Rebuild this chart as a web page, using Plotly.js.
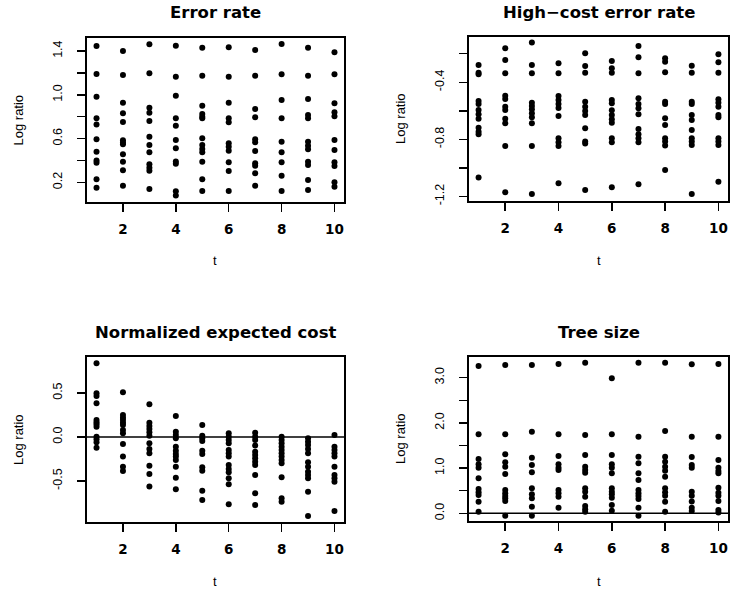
<!DOCTYPE html>
<html><head><meta charset="utf-8">
<script src="https://cdn.plot.ly/plotly-3.0.1.min.js"></script>
<style>html,body{margin:0;padding:0;background:#fff}#chart{width:731px;height:594px}</style>
</head><body><div id="chart"></div>
<script>
// t values (x axis)
const tValues = [1, 2, 3, 4, 5, 6, 7, 8, 9, 10];

// Panel titles
const panelTitles = ["Error rate", "High\u2212cost error rate", "Normalized expected cost", "Tree size"];

// Log ratio values, one list per t
const errorRate = [
  [1.446, 1.19, 0.983, 0.785, 0.73, 0.594, 0.48, 0.40, 0.38, 0.228, 0.152],
  [1.40, 1.18, 0.928, 0.831, 0.752, 0.585, 0.565, 0.548, 0.457, 0.389, 0.31, 0.17],
  [1.461, 1.196, 0.882, 0.836, 0.761, 0.617, 0.541, 0.475, 0.365, 0.334, 0.307, 0.14],
  [1.449, 1.165, 0.992, 0.785, 0.718, 0.587, 0.511, 0.39, 0.37, 0.12, 0.08],
  [1.43, 1.174, 0.90, 0.825, 0.80, 0.785, 0.603, 0.541, 0.505, 0.475, 0.389, 0.228, 0.121],
  [1.434, 1.165, 0.928, 0.785, 0.749, 0.557, 0.526, 0.49, 0.383, 0.304, 0.121],
  [1.409, 1.174, 0.87, 0.795, 0.594, 0.566, 0.487, 0.374, 0.353, 0.283, 0.17],
  [1.464, 1.187, 0.952, 0.785, 0.572, 0.475, 0.383, 0.261, 0.121],
  [1.43, 1.174, 0.962, 0.816, 0.785, 0.572, 0.535, 0.502, 0.389, 0.359, 0.222, 0.13],
  [1.388, 1.187, 0.922, 0.84, 0.804, 0.587, 0.496, 0.383, 0.35, 0.201, 0.161]
];

const highCostErrorRate = [
  [-0.279, -0.333, -0.344, -0.531, -0.552, -0.594, -0.624, -0.655, -0.718, -0.746, -0.764, -1.068],
  [-0.162, -0.244, -0.337, -0.494, -0.517, -0.571, -0.594, -0.655, -0.687, -0.846, -1.171],
  [-0.122, -0.279, -0.337, -0.543, -0.566, -0.589, -0.617, -0.645, -0.687, -0.846, -1.183],
  [-0.267, -0.337, -0.496, -0.524, -0.552, -0.58, -0.636, -0.792, -0.82, -0.846, -1.108],
  [-0.197, -0.286, -0.333, -0.536, -0.571, -0.601, -0.629, -0.722, -0.816, -0.83, -1.155],
  [-0.251, -0.302, -0.333, -0.524, -0.547, -0.596, -0.629, -0.659, -0.683, -0.792, -0.82, -1.136],
  [-0.146, -0.225, -0.337, -0.512, -0.552, -0.582, -0.624, -0.727, -0.764, -0.792, -0.82, -1.115],
  [-0.232, -0.256, -0.33, -0.536, -0.552, -0.652, -0.699, -0.792, -0.816, -0.844, -1.015],
  [-0.284, -0.333, -0.536, -0.552, -0.629, -0.664, -0.734, -0.792, -0.816, -0.839, -1.183],
  [-0.204, -0.26, -0.333, -0.519, -0.543, -0.571, -0.629, -0.646, -0.792, -0.816, -0.839, -1.097]
];

const normalizedExpectedCost = [
  [0.837, 0.496, 0.466, 0.383, 0.193, 0.167, 0.144, 0.117, 0.004, -0.026, -0.06, -0.121],
  [0.508, 0.25, 0.22, 0.193, 0.163, 0.136, 0.08, 0.042, -0.08, -0.223, -0.337, -0.386],
  [0.371, 0.163, 0.125, 0.091, 0.053, 0.015, -0.072, -0.136, -0.186, -0.326, -0.42, -0.564],
  [0.239, 0.06, 0.023, -0.015, -0.11, -0.156, -0.193, -0.223, -0.261, -0.337, -0.462, -0.595],
  [0.136, 0.015, -0.015, -0.045, -0.156, -0.193, -0.345, -0.383, -0.61, -0.716],
  [0.042, 0.004, -0.034, -0.072, -0.148, -0.186, -0.223, -0.318, -0.364, -0.402, -0.47, -0.538, -0.765],
  [0.049, 0.004, -0.034, -0.098, -0.167, -0.205, -0.242, -0.28, -0.318, -0.432, -0.64, -0.773],
  [0.004, -0.034, -0.072, -0.11, -0.148, -0.186, -0.223, -0.261, -0.299, -0.458, -0.697, -0.735],
  [-0.015, -0.053, -0.091, -0.136, -0.186, -0.288, -0.337, -0.394, -0.432, -0.47, -0.621, -0.898],
  [0.023, -0.11, -0.148, -0.186, -0.223, -0.337, -0.432, -0.47, -0.508, -0.841]
];

const treeSize = [
  [3.259, 1.748, 1.201, 1.084, 1.009, 0.774, 0.538, 0.465, 0.405, 0.257, 0.035],
  [3.281, 1.748, 1.305, 1.128, 1.031, 0.869, 0.515, 0.442, 0.383, 0.332, 0.272, -0.053],
  [3.281, 1.805, 1.23, 1.069, 0.907, 0.553, 0.42, 0.332, 0.146, -0.053],
  [3.303, 1.748, 1.268, 1.084, 1.009, 0.958, 0.515, 0.442, 0.367, 0.124],
  [3.332, 1.732, 1.29, 1.031, 0.958, 0.898, 0.553, 0.478, 0.367, 0.162, 0.088, 0.035],
  [2.987, 1.748, 1.29, 1.084, 1.009, 0.885, 0.553, 0.478, 0.42, 0.345, 0.184, 0.058],
  [3.332, 1.695, 1.252, 1.106, 0.885, 0.737, 0.515, 0.442, 0.383, 0.316, 0.124, -0.053],
  [3.332, 1.821, 1.252, 1.142, 1.031, 0.942, 0.81, 0.553, 0.465, 0.39, 0.257, 0.035],
  [3.296, 1.695, 1.245, 1.069, 1.009, 0.478, 0.39, 0.26, 0.124, 0.05],
  [3.303, 1.695, 1.179, 1.009, 0.936, 0.885, 0.566, 0.457, 0.39, 0.272, 0.073, 0.02]
];

// Tick labels
const xTickVals = [2, 4, 6, 8, 10];
const xTickText = ["2", "4", "6", "8", "10"];
const y1TickVals = [0.2, 0.4, 0.6, 0.8, 1.0, 1.2, 1.4];
const y1TickText = ["0.2", "", "0.6", "", "1.0", "", "1.4"];
const y2TickVals = [-1.2, -1.0, -0.8, -0.6, -0.4, -0.2];
const y2TickText = ["-1.2", "", "-0.8", "", "-0.4", ""];
const y3TickVals = [-0.5, 0.0, 0.5];
const y3TickText = ["-0.5", "0.0", "0.5"];
const y4TickVals = [0.0, 0.5, 1.0, 1.5, 2.0, 2.5, 3.0];
const y4TickText = ["0.0", "", "1.0", "", "2.0", "", "3.0"];

const W = 731, H = 594;
// pixel boxes [left, right, top, bottom]
const boxes = [[87, 344, 38, 202], [469, 728, 37, 201], [87, 344, 357, 522], [469, 728, 357, 521]];
const yRanges = [[0.021, 1.519], [-1.232, -0.083], [-0.966, 0.909], [-0.17, 3.458]];
const yTicks = [[y1TickVals, y1TickText], [y2TickVals, y2TickText], [y3TickVals, y3TickText], [y4TickVals, y4TickText]];
const series = [errorRate, highCostErrorRate, normalizedExpectedCost, treeSize];

function flatten(groups) {
  const x = [], y = [];
  groups.forEach((g, i) => g.forEach(v => { x.push(tValues[i]); y.push(v); }));
  return {x, y};
}

const traces = [];
const layout = {
  width: W, height: H,
  margin: {l: 0, r: 0, t: 0, b: 0},
  paper_bgcolor: "white", plot_bgcolor: "white",
  showlegend: false,
  annotations: [], shapes: []
};

const tickFontX = {family: "DejaVu Sans", size: 13.5, color: "black", weight: "bold"};
const tickFontY = {family: "Liberation Sans, Arial", size: 12.5, color: "black"};
const labelFont = {family: "Liberation Sans, Arial", size: 13, color: "black"};
const titleFont = {family: "DejaVu Sans", size: 16.5, color: "black", weight: "bold"};

boxes.forEach((b, i) => {
  const n = i + 1;
  const xa = "xaxis" + (n === 1 ? "" : n), ya = "yaxis" + (n === 1 ? "" : n);
  const xr = "x" + (n === 1 ? "" : n), yr = "y" + (n === 1 ? "" : n);
  const d = flatten(series[i]);
  traces.push({type: "scatter", mode: "markers", x: d.x, y: d.y, xaxis: xr, yaxis: yr,
    marker: {size: 6, color: "black"}, hoverinfo: "skip"});
  const common = {showline: true, mirror: true, linecolor: "black", linewidth: 2,
    ticks: "outside", ticklen: 8, tickwidth: 1.5, tickcolor: "black",
    showgrid: false, zeroline: false, fixedrange: true};
  layout[xa] = Object.assign({}, common, {
    domain: [b[0] / W, b[1] / W], anchor: yr, range: [0.64, 10.36],
    tickmode: "array", tickvals: xTickVals, ticktext: xTickText, tickfont: tickFontX,
    ticklabelstandoff: 6
  });
  layout[ya] = Object.assign({}, common, {
    domain: [1 - b[3] / H, 1 - b[2] / H], anchor: xr, range: yRanges[i],
    tickmode: "array", tickvals: yTicks[i][0], ticktext: yTicks[i][1], tickfont: tickFontY,
    tickangle: -90, ticklabelstandoff: 10
  });
  const cx = (b[0] + b[1]) / 2, cy = (b[2] + b[3]) / 2;
  const top = i < 2;
  layout.annotations.push({text: panelTitles[i], xref: "paper", yref: "paper",
    x: cx / W, y: 1 - (top ? 13 : 332) / H, xanchor: "center", yanchor: "middle",
    showarrow: false, font: titleFont});
  layout.annotations.push({text: "t", xref: "paper", yref: "paper",
    x: cx / W, y: 1 - (top ? 260 : 581) / H, xanchor: "center", yanchor: "middle",
    showarrow: false, font: labelFont});
  layout.annotations.push({text: "Log ratio", xref: "paper", yref: "paper",
    x: (i % 2 === 0 ? 18.5 : 400) / W, y: 1 - cy / H, xanchor: "center", yanchor: "middle",
    textangle: -90, showarrow: false, font: labelFont});
  if (i >= 2) {
    layout.shapes.push({type: "line", xref: xr + " domain", x0: 0, x1: 1, yref: yr, y0: 0, y1: 0,
      line: {color: "black", width: 1.5}});
  }
});

Plotly.newPlot("chart", traces, layout, {displayModeBar: false, staticPlot: true});
</script>
</body></html>
